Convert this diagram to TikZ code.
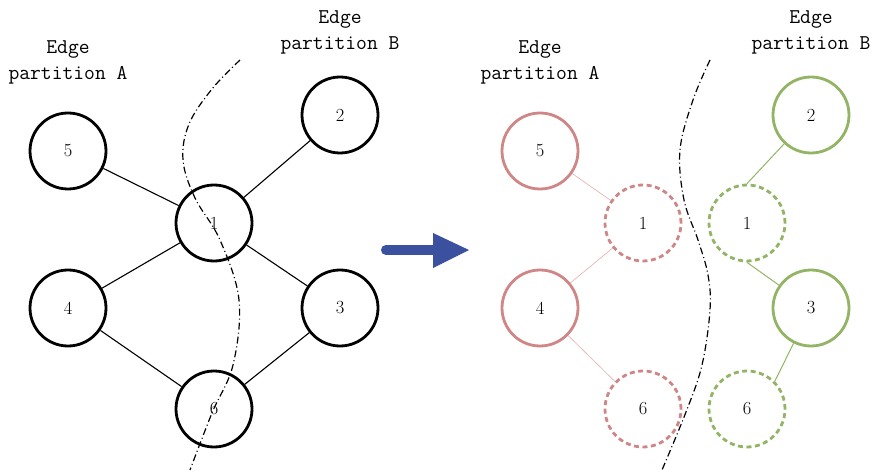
\documentclass[tikz,border=0pt]{standalone}
\usepackage{fontspec}
\begin{document}
\begin{tikzpicture}[x=1pt,y=-1pt,
  vtx/.style={circle,draw,line width=2.8pt,minimum size=76pt,inner sep=0pt,font=\fontsize{18.5}{18.5}\selectfont},
  redv/.style={vtx,draw=redc},
  greenv/.style={vtx,draw=greenc},
  dashv/.style={dash pattern=on 5pt off 3.5pt},
  lbl/.style={align=center,inner sep=0pt,font=\fontsize{21}{26}\selectfont\ttfamily},
  bedge/.style={line width=1.1pt},
  redge/.style={line width=0.6pt,draw=redl},
  gedge/.style={line width=1pt,draw=greenc},
  cut/.style={line width=1.2pt,dash pattern=on 7pt off 3pt on 1pt off 3pt}]
\definecolor{redc}{RGB}{206,134,134}
\definecolor{redl}{RGB}{232,172,172}
\definecolor{greenc}{RGB}{146,180,100}
\definecolor{bluec}{RGB}{60,80,160}
\useasboundingbox (0,0) rectangle (873,473);
% left graph
\node[vtx] (L5) at (68,151) {5};
\node[vtx] (L2) at (340,115) {2};
\node[vtx] (L1) at (214,223) {1};
\node[vtx] (L4) at (68,308) {4};
\node[vtx] (L3) at (340,308) {3};
\node[vtx] (L6) at (214,409) {6};
\draw[bedge] (L5) -- (L1);
\draw[bedge] (L2) -- (L1);
\draw[bedge] (L4) -- (L1);
\draw[bedge] (L3) -- (L1);
\draw[bedge] (L4) -- (L6);
\draw[bedge] (L3) -- (L6);
\node[lbl,anchor=base] (LA) at (68,80) {Edge\\partition A};
\node[lbl,anchor=base] (LB) at (340,50) {Edge\\partition B};
\draw[cut] plot[smooth,tension=0.6] coordinates {(240,60) (212,89) (189,124) (183,160) (195,198) (220,240) (239,300) (233,365) (212,413) (190,470)};
% arrow
\coordinate (A0) at (386,250);
\coordinate (A1) at (436,250);
\coordinate (H1) at (433,233);
\coordinate (H2) at (469,250);
\coordinate (H3) at (433,268);
\draw[bluec,line width=10pt,line cap=round] (A0) -- (A1);
\fill[bluec] (H1) -- (H2) -- (H3) -- cycle;
% right graph
\node[redv] (R5) at (540,151) {5};
\node[redv,dashv] (R1) at (643,223) {1};
\node[redv] (R4) at (540,308) {4};
\node[redv,dashv] (R6) at (643,409) {6};
\node[greenv] (G2) at (811,115) {2};
\node[greenv,dashv] (G1) at (747,223) {1};
\node[greenv] (G3) at (811,308) {3};
\node[greenv,dashv] (G6) at (747,409) {6};
\draw[redge] (R5) -- (R1);
\draw[redge] (R4) -- (R1);
\draw[redge] (R4) -- (R6);
\draw[gedge] (G2) -- (G1.north);
\draw[gedge] (G1.south) -- (G3);
\draw[gedge] (G3) -- (G6.north east);
\node[lbl,anchor=base] (RA) at (540,80) {Edge\\partition A};
\node[lbl,anchor=base] (RB) at (811,50) {Edge\\partition B};
\draw[cut] plot[smooth,tension=0.6] coordinates {(710,60) (693,100) (680,150) (684,200) (698,240) (708,275) (710,310) (702,365) (686,412) (662,470)};
\end{tikzpicture}
\end{document}
